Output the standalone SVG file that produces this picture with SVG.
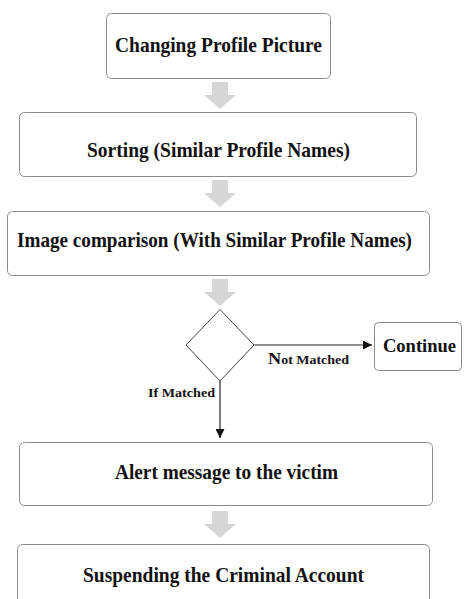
<svg xmlns="http://www.w3.org/2000/svg" width="464" height="599" viewBox="0 0 464 599">
<defs>
<style>
.box{fill:#fff;stroke:#8c8c8c;stroke-width:1}
.t{font-family:"Liberation Serif","Times New Roman",serif;font-weight:bold;fill:#111;text-anchor:middle}
.s{text-anchor:start}
.big{font-size:21px}
.blk{fill:#d6d6d6}
.ln{stroke:#222;stroke-width:1.2;fill:none}
</style>
<marker id="ah" viewBox="0 0 10 10" refX="10" refY="5" markerWidth="9" markerHeight="9" markerUnits="userSpaceOnUse" orient="auto">
<path d="M0,0 L10,5 L0,10 z" fill="#111"/>
</marker>
<path id="blockArrow" d="M-8,0 H8 V13 H16 L0,27 L-16,13 H-8 Z"/>
</defs>
<rect width="464" height="599" fill="#fff"/>

<g id="connectors">
<use href="#blockArrow" class="blk" x="220" y="82"/>
<use href="#blockArrow" class="blk" x="220" y="180"/>
<use href="#blockArrow" class="blk" x="220" y="279"/>
<use href="#blockArrow" class="blk" x="220" y="511"/>
<line class="ln" x1="254" y1="345" x2="372" y2="345" marker-end="url(#ah)"/>
<line class="ln" x1="220" y1="381" x2="220" y2="438" marker-end="url(#ah)"/>
<text class="t s" x="268" y="364" textLength="81" lengthAdjust="spacingAndGlyphs"><tspan font-size="17">N</tspan><tspan font-size="13">ot Matched</tspan></text>
<text class="t s" x="148" y="397" font-size="13" textLength="67" lengthAdjust="spacingAndGlyphs">If Matched</text>
</g>

<g id="n1">
<rect class="box" x="106.5" y="13.5" width="224" height="65" rx="5"/>
<text class="t big" x="218.5" y="52" textLength="207" lengthAdjust="spacingAndGlyphs">Changing Profile Picture</text>
</g>
<g id="n2">
<rect class="box" x="19.5" y="112.5" width="397" height="64" rx="5"/>
<text class="t big" x="218.5" y="157" textLength="263" lengthAdjust="spacingAndGlyphs">Sorting (Similar Profile Names)</text>
</g>
<g id="n3">
<rect class="box" x="7.5" y="211.5" width="422" height="64" rx="5"/>
<text class="t big" x="214.5" y="247" textLength="395" lengthAdjust="spacingAndGlyphs">Image comparison (With Similar Profile Names)</text>
</g>
<g id="decision">
<path class="box" d="M220,309.5 L254,345 L220,381 L186,345 Z" style="stroke:#444"/>
</g>
<g id="n4">
<rect class="box" x="374.5" y="322.5" width="87" height="48" rx="4"/>
<text class="t" x="419.5" y="352" font-size="19.5" textLength="73" lengthAdjust="spacingAndGlyphs">Continue</text>
</g>
<g id="n5">
<rect class="box" x="19.5" y="442.5" width="413" height="63" rx="5"/>
<text class="t big" x="226.5" y="479" textLength="223" lengthAdjust="spacingAndGlyphs">Alert message to the victim</text>
</g>
<g id="n6">
<rect class="box" x="17.5" y="544.5" width="412" height="70" rx="5"/>
<text class="t big" x="223.5" y="582" textLength="281" lengthAdjust="spacingAndGlyphs">Suspending the Criminal Account</text>
</g>
</svg>
